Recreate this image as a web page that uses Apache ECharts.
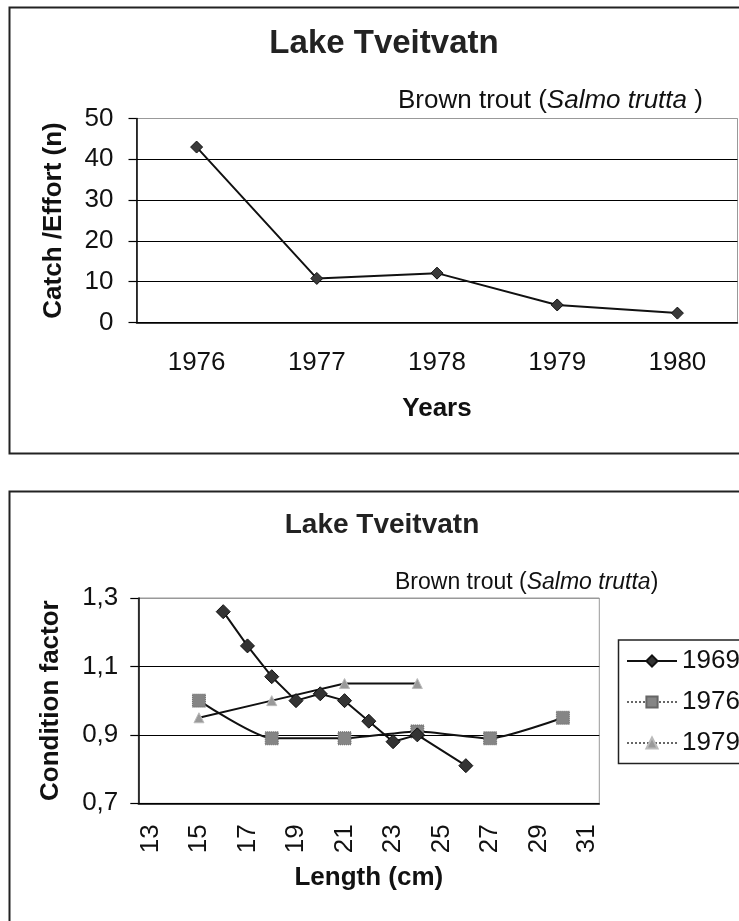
<!DOCTYPE html>
<html lang="en">
<head>
    <meta charset="UTF-8">
    <title>Lake Tveitvatn</title>
    <script src="https://cdn.jsdelivr.net/npm/echarts@6/dist/echarts.min.js"></script>
    <style>
        body{
            margin: 0;
            background: #fff;
        }
        #main{
            width: 739px;
            height: 921px;
        }
    </style>
</head>
<body>
    <div id="main"></div>
    <script>
        // catch per effort, top chart
        const years = ['1976', '1977', '1978', '1979', '1980']
        const catchEffort = [43, 10.8, 12.1, 4.3, 2.3]

        // condition factor, bottom chart
        const lengths = ['13', '14', '15', '16', '17', '18', '19', '20', '21', '22', '23', '24', '25', '26', '27', '28', '29', '30', '31']
        const len1969 = [16, 17, 18, 19, 20, 21, 22, 23, 24, 26]
        const cf1969 = [1.26, 1.16, 1.07, 1.00, 1.02, 1.00, 0.94, 0.88, 0.90, 0.81]
        const len1976 = [15, 18, 21, 24, 27, 30]
        const cf1976 = [1.00, 0.89, 0.89, 0.91, 0.89, 0.95]
        const len1979 = [15, 18, 21, 24]
        const cf1979 = [0.95, 1.00, 1.05, 1.05]

        const font = 'Liberation Sans, Arial, sans-serif'
        const pairs = (xs, ys) => xs.map((x, i) => [String(x), ys[i]])

        let myChart = echarts.init(document.getElementById('main'), null, { renderer: 'canvas' })

        let axisLine = { lineStyle: { color: '#000', width: 1.5 } }
        let tick = (len) => ({ length: len, lineStyle: { color: '#000', width: 1.2 } })

        let option = {
            backgroundColor: '#fff',
            textStyle: { fontFamily: font },
            animation: false,
            grid: [
                { left: 136.5, top: 118.5, width: 601, height: 204, show: true, borderColor: '#999', borderWidth: 1 },
                { left: 138.3, top: 598, width: 461, height: 205.3, show: true, borderColor: '#999', borderWidth: 1 }
            ],
            xAxis: [
                {
                    gridIndex: 0,
                    type: 'category',
                    data: years,
                    boundaryGap: true,
                    axisLine: axisLine,
                    axisTick: tick(10),
                    axisLabel: { color: '#111', fontSize: 26, margin: 27, fontFamily: font },
                    name: 'Years',
                    nameLocation: 'middle',
                    nameGap: 73,
                    nameTextStyle: { color: '#111', fontSize: 26, fontWeight: 'bold', fontFamily: font }
                },
                {
                    gridIndex: 1,
                    type: 'category',
                    data: lengths,
                    boundaryGap: true,
                    axisLine: axisLine,
                    axisTick: Object.assign(tick(8), { interval: 0 }),
                    axisLabel: { color: '#111', fontSize: 26, margin: 21, rotate: 90, interval: 1, fontFamily: font },
                    name: 'Length (cm)',
                    nameLocation: 'middle',
                    nameGap: 62,
                    nameTextStyle: { color: '#111', fontSize: 26, fontWeight: 'bold', fontFamily: font }
                }
            ],
            yAxis: [
                {
                    gridIndex: 0,
                    type: 'value',
                    min: 0,
                    max: 50,
                    interval: 10,
                    axisLine: Object.assign({ show: true }, axisLine),
                    axisTick: Object.assign({ show: true }, tick(8)),
                    axisLabel: { color: '#111', fontSize: 26, margin: 23, fontFamily: font },
                    splitLine: { lineStyle: { color: ['#000', '#000', '#000', '#000', '#000', '#999'], width: 1.2 } },
                    name: 'Catch /Effort (n)',
                    nameLocation: 'middle',
                    nameGap: 70,
                    nameTextStyle: { color: '#111', fontSize: 26, fontWeight: 'bold', fontFamily: font }
                },
                {
                    gridIndex: 1,
                    type: 'value',
                    min: 0.7,
                    max: 1.3,
                    interval: 0.2,
                    axisLine: Object.assign({ show: true }, axisLine),
                    axisTick: Object.assign({ show: true }, tick(8)),
                    axisLabel: {
                        color: '#111', fontSize: 26, margin: 20, fontFamily: font,
                        formatter: v => v.toFixed(1).replace('.', ',')
                    },
                    splitLine: { lineStyle: { color: ['#000', '#000', '#000', '#999'], width: 1.2 } },
                    name: 'Condition factor',
                    nameLocation: 'middle',
                    nameGap: 74,
                    nameTextStyle: { color: '#111', fontSize: 26, fontWeight: 'bold', fontFamily: font }
                }
            ],
            legend: {
                orient: 'vertical',
                left: 626,
                top: 648,
                itemWidth: 50,
                itemHeight: 14,
                itemGap: 15,
                padding: 0,
                textStyle: { color: '#111', fontSize: 26, fontFamily: font },
                data: [
                    { name: '1969' },
                    { name: '1976', lineStyle: { color: '#666', type: 'dotted' } },
                    { name: '1979', lineStyle: { color: '#666', type: 'dotted' } }
                ]
            },
            graphic: [
                // outer frames of the two charts
                { type: 'rect', shape: { x: 9.5, y: 7.5, width: 800, height: 446 }, style: { fill: 'none', stroke: '#222', lineWidth: 2 } },
                { type: 'rect', shape: { x: 9.5, y: 491.5, width: 800, height: 600 }, style: { fill: 'none', stroke: '#222', lineWidth: 2 } },
                // legend frame
                { type: 'rect', shape: { x: 618.5, y: 640, width: 200, height: 123.5 }, style: { fill: 'none', stroke: '#222', lineWidth: 1.5 } },
                // titles
                { type: 'text', x: 384, y: 44, style: { text: 'Lake Tveitvatn', fill: '#222', font: 'bold 33px ' + font, align: 'center', verticalAlign: 'middle' } },
                { type: 'text', x: 382, y: 525, style: { text: 'Lake Tveitvatn', fill: '#222', font: 'bold 28px ' + font, align: 'center', verticalAlign: 'middle' } },
                {
                    type: 'text', x: 398, y: 101,
                    style: {
                        text: '{n|Brown trout (}{i|Salmo trutta}{n| )}',
                        verticalAlign: 'middle',
                        rich: {
                            n: { fontSize: 26, fontFamily: font, fill: '#111' },
                            i: { fontSize: 26, fontFamily: font, fontStyle: 'italic', fill: '#111' }
                        }
                    }
                },
                {
                    type: 'text', x: 395, y: 583,
                    style: {
                        text: '{n|Brown trout (}{i|Salmo trutta}{n|)}',
                        verticalAlign: 'middle',
                        rich: {
                            n: { fontSize: 23, fontFamily: font, fill: '#111' },
                            i: { fontSize: 23, fontFamily: font, fontStyle: 'italic', fill: '#111' }
                        }
                    }
                }
            ],
            series: [
                {
                    name: 'Catch',
                    type: 'line',
                    xAxisIndex: 0,
                    yAxisIndex: 0,
                    data: catchEffort,
                    symbol: 'diamond',
                    symbolSize: 12,
                    itemStyle: { color: '#3a3a3a', borderColor: '#111', borderWidth: 1 },
                    lineStyle: { color: '#111', width: 2 }
                },
                {
                    name: '1976',
                    type: 'line',
                    xAxisIndex: 1,
                    yAxisIndex: 1,
                    data: pairs(len1976, cf1976),
                    smooth: 0.2,
                    symbol: 'rect',
                    symbolSize: 13,
                    itemStyle: { color: '#858585', borderColor: '#666', borderWidth: 1, borderType: 'dotted' },
                    lineStyle: { color: '#111', width: 2 },
                    z: 2
                },
                {
                    name: '1979',
                    type: 'line',
                    xAxisIndex: 1,
                    yAxisIndex: 1,
                    data: pairs(len1979, cf1979),
                    symbol: 'triangle',
                    symbolSize: 10,
                    itemStyle: { color: '#999', borderColor: '#bbb', borderWidth: 1 },
                    lineStyle: { color: '#111', width: 2 },
                    z: 3
                },
                {
                    name: '1969',
                    type: 'line',
                    xAxisIndex: 1,
                    yAxisIndex: 1,
                    data: pairs(len1969, cf1969),
                    symbol: 'diamond',
                    symbolSize: 14,
                    itemStyle: { color: '#333', borderColor: '#111', borderWidth: 1 },
                    lineStyle: { color: '#111', width: 2 },
                    z: 4
                }
            ]
        }
        myChart.setOption(option)
    </script>
</body>
</html>
